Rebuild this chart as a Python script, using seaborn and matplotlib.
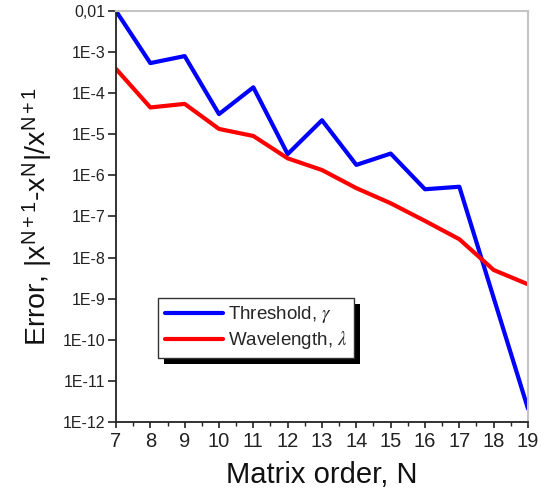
import numpy as np
import pandas as pd
import matplotlib
matplotlib.use("Agg")
import matplotlib.pyplot as plt
import seaborn as sns
from matplotlib.patches import Rectangle
from matplotlib.ticker import FixedLocator, FixedFormatter, LogLocator, NullFormatter

# ---- data ----
matrix_order = [7, 8, 9, 10, 11, 12, 13, 14, 15, 16, 17, 18, 19]
threshold_err = [1.0e-2, 5.4e-4, 8.0e-4, 3.1e-5, 1.39e-4, 3.3e-6, 2.2e-5,
                 1.8e-6, 3.4e-6, 4.6e-7, 5.3e-7, 1.05e-9, 2.1e-12]
wavelength_err = [3.9e-4, 4.5e-5, 5.5e-5, 1.35e-5, 9.1e-6, 2.6e-6, 1.35e-6,
                  4.9e-7, 2.1e-7, 7.8e-8, 2.8e-8, 5.0e-9, 2.24e-9]
series_names = ["Threshold, $\\gamma$", "Wavelength, $\\lambda$"]
series_colors = ["#0000ff", "#ff0000"]
y_tick_values = [1e-2, 1e-3, 1e-4, 1e-5, 1e-6, 1e-7, 1e-8, 1e-9, 1e-10, 1e-11, 1e-12]
y_tick_labels = ["0,01", "1E-3", "1E-4", "1E-5", "1E-6", "1E-7", "1E-8",
                 "1E-9", "1E-10", "1E-11", "1E-12"]
x_ticks = list(range(7, 20))

df = pd.DataFrame({
    "N": matrix_order * 2,
    "err": threshold_err + wavelength_err,
    "series": [series_names[0]] * len(matrix_order) + [series_names[1]] * len(matrix_order),
})

sns.set_style("ticks")
plt.rcParams["font.family"] = ["Liberation Sans", "DejaVu Sans"]
plt.rcParams["mathtext.fontset"] = "stix"

fig = plt.figure(figsize=(5.57, 4.93), dpi=100)
ax = fig.add_axes([116 / 557, 1 - 422 / 493, 412 / 557, 411 / 493])

sns.lineplot(data=df, x="N", y="err", hue="series", hue_order=series_names,
             palette=series_colors, linewidth=3.0, ax=ax, legend=False)
ax.set_yscale("log")
ax.set_xlim(7, 19)
ax.set_ylim(1e-12, 1e-2)

ax.yaxis.set_major_locator(FixedLocator(y_tick_values))
ax.yaxis.set_major_formatter(FixedFormatter(y_tick_labels))
ax.yaxis.set_minor_locator(LogLocator(base=10, subs=np.arange(2, 10)))
ax.yaxis.set_minor_formatter(NullFormatter())
ax.set_xticks(x_ticks)
ax.set_xticklabels([str(v) for v in x_ticks])
ax.set_xticks(np.arange(7.5, 19, 1.0), minor=True)

ax.tick_params(axis="y", which="major", direction="out", length=6, width=1.2,
               labelsize=11.5, pad=1.5, colors="#222222")
ax.tick_params(axis="y", which="minor", direction="out", length=3.5, width=0.9, colors="#222222")
ax.tick_params(axis="x", which="major", direction="out", length=4.5, width=1.2,
               labelsize=14.5, pad=3, colors="#222222")
ax.tick_params(axis="x", which="minor", direction="out", length=3, width=1.0, colors="#222222")

for s in ["left", "bottom"]:
    ax.spines[s].set_color("#222222")
    ax.spines[s].set_linewidth(1.3)
for s in ["top", "right"]:
    ax.spines[s].set_visible(True)
    ax.spines[s].set_color("#c4c4c4")
    ax.spines[s].set_linewidth(1.5)

ax.set_xlabel("Matrix order, N", fontsize=21, color="#111111")
ax.xaxis.set_label_coords(0.5, -0.095)
ax.set_ylabel("Error, |x$^{\\mathregular{N+1}}$-x$^{\\mathregular{N}}$|/x$^{\\mathregular{N+1}}$",
              fontsize=20.5, color="#111111")
ax.yaxis.set_label_coords(-0.148, 0.5)

handles = ax.get_lines()[:2]
leg = ax.legend(handles, series_names, loc="upper left", bbox_to_anchor=(0.102, 0.302),
                borderaxespad=0, fancybox=False, frameon=True, fontsize=13.5,
                handlelength=3.1, handletextpad=0.3, borderpad=0.35, labelspacing=0.2)
leg.get_frame().set_edgecolor("#333333")
leg.get_frame().set_linewidth(1.0)
leg.get_frame().set_alpha(1)
leg.set_zorder(6)

fig.canvas.draw()
bb = leg.get_window_extent()
shadow = Rectangle((bb.x0 + 6, bb.y0 - 6), bb.width, bb.height, transform=None,
                   facecolor="black", edgecolor="none", zorder=5.5, clip_on=False)
ax.add_artist(shadow)

fig.savefig("out.png", dpi=100)
